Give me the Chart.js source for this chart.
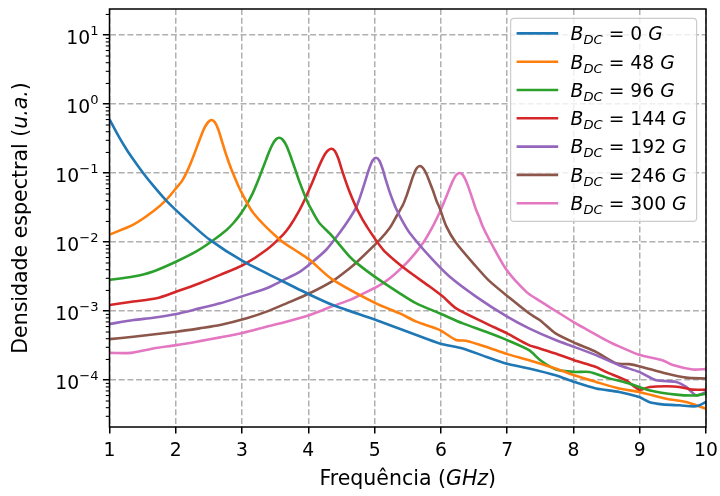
<!DOCTYPE html>
<html><head><meta charset="utf-8">
<script src="https://cdn.jsdelivr.net/npm/chart.js@4"></script>
<style>html,body{margin:0;padding:0;background:#fff}#wrap{width:720px;height:496px}</style>
</head><body><div id="wrap"><canvas id="c" width="720" height="496"></canvas></div>
<script>
// ---- data ----
const fieldsG = [0, 48, 96, 144, 192, 246, 300];

const freqB0 = [1.0,1.13,1.26,1.36,1.51,1.66,1.86,2.16,2.51,3.02,3.57,4.0,4.37,5.02,5.63,5.98,6.33,6.68,6.98,7.33,7.73,8.01,8.34,8.69,8.99,9.14,9.34,9.6,9.85,10.0];
const valB0  = [0.605,0.355,0.219,0.158,0.1,0.066,0.0398,0.0212,0.0109,0.00526,0.00285,0.00178,0.00123,7.46e-4,4.52e-4,3.42e-4,2.89e-4,2.19e-4,1.75e-4,1.48e-4,1.18e-4,9.46e-5,7.59e-5,6.76e-5,5.71e-5,4.84e-5,4.47e-5,4.33e-5,4.2e-5,4.84e-5];

const freqB48 = [1.0,1.36,1.66,1.86,2.01,2.09,2.16,2.24,2.29,2.34,2.39,2.44,2.49,2.54,2.59,2.64,2.69,2.74,2.79,2.84,2.97,3.17,3.57,3.87,4.02,4.35,5.02,5.38,5.63,5.98,6.23,6.38,6.68,7.0,7.33,7.73,8.01,8.34,8.69,8.99,9.4,9.7,9.85,10.0];
const valB48  = [0.0129,0.018,0.0281,0.0415,0.0614,0.0762,0.101,0.152,0.202,0.273,0.365,0.469,0.553,0.592,0.547,0.433,0.305,0.213,0.153,0.1135,0.0581,0.0265,0.0109,0.00695,0.00556,0.00295,0.0013,9.3e-4,7.08e-4,5.37e-4,3.82e-4,3.73e-4,3.05e-4,2.39e-4,1.95e-4,1.48e-4,1.18e-4,9.46e-5,7.59e-5,6.76e-5,5.4e-5,4.84e-5,4.33e-5,3.87e-5];

const freqB96 = [1.0,1.36,1.66,2.01,2.31,2.56,2.77,2.87,2.96,3.06,3.16,3.26,3.31,3.36,3.41,3.46,3.51,3.56,3.61,3.66,3.71,3.76,3.81,3.86,3.96,4.02,4.16,4.35,4.62,4.73,5.0,5.38,5.63,5.98,6.33,6.68,7.0,7.33,7.5,7.74,8.01,8.24,8.49,8.84,9.14,9.55,9.85,10.0];
const valB96  = [2.85e-3,3.18e-3,3.77e-3,5.26e-3,7.36e-3,0.0106,0.0152,0.019,0.0243,0.0339,0.0511,0.0867,0.116,0.155,0.206,0.262,0.308,0.327,0.308,0.262,0.202,0.148,0.108,0.0782,0.0442,0.0332,0.0193,0.0126,6.22e-3,4.98e-3,3.18e-3,1.82e-3,1.30e-3,9.33e-4,6.67e-4,5.05e-4,3.82e-4,2.73e-4,1.95e-4,1.43e-4,1.32e-4,1.32e-4,1.10e-4,8.95e-5,7.16e-5,6.19e-5,6.03e-5,6.4e-5];

const freqB144 = [1.0,1.36,1.71,2.01,2.36,2.67,3.02,3.37,3.62,3.72,3.85,3.95,4.05,4.10,4.15,4.20,4.25,4.30,4.35,4.40,4.45,4.50,4.55,4.60,4.65,4.75,4.88,5.13,5.48,5.83,6.03,6.23,6.68,7.0,7.33,7.49,7.73,8.01,8.34,8.49,8.79,8.99,9.15,9.4,9.6,9.8,10.0];
const valB144  = [1.23e-3,1.38e-3,1.54e-3,1.93e-3,2.55e-3,3.37e-3,4.71e-3,7.78e-3,0.0129,0.017,0.0273,0.0424,0.0697,0.091,0.119,0.152,0.188,0.215,0.226,0.210,0.166,0.117,0.0836,0.0611,0.0462,0.0282,0.017,7.78e-3,3.98e-3,2.28e-3,1.63e-3,1.10e-3,6.67e-4,4.77e-4,3.23e-4,2.89e-4,2.44e-4,1.95e-4,1.56e-4,1.32e-4,1.0e-4,7.3e-5,8.0e-5,8.17e-5,8.0e-5,7.3e-5,7.3e-5];

const freqB192 = [1.0,1.36,1.66,2.01,2.36,2.67,3.02,3.37,3.62,3.87,4.02,4.27,4.47,4.62,4.72,4.77,4.82,4.87,4.92,4.97,5.02,5.07,5.12,5.17,5.22,5.27,5.32,5.42,5.53,5.83,6.13,6.53,7.0,7.33,7.73,8.01,8.34,8.69,8.99,9.25,9.55,9.7,9.85,10.0];
const valB192  = [6.53e-4,7.46e-4,8.05e-4,9.12e-4,1.10e-3,1.30e-3,1.67e-3,2.15e-3,2.82e-3,3.72e-3,4.79e-3,7.78e-3,0.0136,0.0219,0.0317,0.0422,0.0588,0.0838,0.118,0.153,0.168,0.153,0.116,0.0793,0.0561,0.0413,0.0314,0.0202,0.0136,6.22e-3,3.18e-3,1.63e-3,8.34e-4,5.65e-4,3.82e-4,3.05e-4,2.31e-4,1.65e-4,1.32e-4,1.0e-4,9.46e-5,8.0e-5,6.05e-5,6.76e-5];

const freqB246 = [1.0,1.36,2.01,2.36,2.67,3.07,3.37,3.67,4.02,4.37,4.62,4.73,5.08,5.23,5.33,5.43,5.48,5.53,5.58,5.63,5.68,5.73,5.78,5.83,5.88,5.93,5.98,6.08,6.23,6.53,6.73,7.04,7.33,7.49,7.73,8.04,8.34,8.64,8.84,8.99,9.4,9.7,10.0];
const valB246  = [3.94e-4,4.27e-4,5.05e-4,5.65e-4,6.31e-4,7.89e-4,9.86e-4,1.30e-3,1.82e-3,2.75e-3,4.17e-3,5.13e-3,0.0109,0.0162,0.0238,0.0352,0.0465,0.0647,0.0902,0.116,0.127,0.119,0.0982,0.0748,0.0562,0.0407,0.0316,0.0171,9.73e-3,4.45e-3,2.75e-3,1.55e-3,9.33e-4,7.46e-4,4.77e-4,3.41e-4,2.58e-4,1.77e-4,1.71e-4,1.6e-4,1.25e-4,1.09e-4,1.06e-4];

const freqB300 = [1.0,1.32,1.66,2.01,2.36,2.67,3.02,3.37,3.67,4.02,4.37,4.62,4.73,5.13,5.48,5.73,5.88,5.98,6.03,6.08,6.13,6.18,6.23,6.28,6.33,6.38,6.43,6.48,6.53,6.58,6.63,6.73,6.99,7.29,7.49,7.59,7.99,8.19,8.49,8.59,8.99,9.34,9.5,9.8,10.0];
const valB300  = [2.49e-4,2.49e-4,2.89e-4,3.23e-4,3.69e-4,4.18e-4,4.88e-4,5.97e-4,7.05e-4,8.81e-4,1.19e-3,1.45e-3,1.62e-3,2.55e-3,4.98e-3,9.73e-3,0.0171,0.0269,0.0346,0.0454,0.0598,0.0774,0.0942,0.101,0.0948,0.0774,0.0575,0.0415,0.0297,0.0229,0.017,0.0109,3.98e-3,1.91e-3,1.41e-3,1.23e-3,7.08e-4,5.5e-4,3.8e-4,3.41e-4,2.34e-4,1.95e-4,1.66e-4,1.43e-4,1.45e-4];

const xTicks = [1,2,3,4,5,6,7,8,9,10];
const yMajorTicks = [1e-4,1e-3,1e-2,1e-1,1,10];
const yTickBase = '10';
const yTickExps = ['\u22124','\u22123','\u22122','\u22121','0','1'];

// ---- styles ----
const colors = ['#1f77b4','#ff7f0e','#2ca02c','#d62728','#9467bd','#8c564b','#e377c2'];
const FONT = '"DejaVu Sans", sans-serif';
const FS = 18.75;
const FS_TITLE = 20.5;
const GRID = '#b0b0b0';

const seriesF = [freqB0,freqB48,freqB96,freqB144,freqB192,freqB246,freqB300];
const seriesV = [valB0,valB48,valB96,valB144,valB192,valB246,valB300];

const datasets = seriesF.map((fs, i) => ({
  label: 'B_DC = ' + fieldsG[i] + ' G',
  data: fs.map((x, j) => ({x: x, y: seriesV[i][j]})),
  borderColor: colors[i],
  backgroundColor: colors[i],
  borderWidth: 2.6,
  pointRadius: 0,
  fill: false,
  tension: 0.25
}));

function drawMath(ctx, parts, x, y, base) {
  base = base || FS;
  for (const p of parts) {
    const size = base * (p[3] || 1);
    ctx.font = (p[1] ? 'italic ' : '') + size + 'px ' + FONT;
    ctx.fillText(p[0], x, y + (p[2] || 0));
    x += ctx.measureText(p[0]).width;
  }
  return x;
}
function mathWidth(ctx, parts, base) {
  base = base || FS;
  let w = 0;
  for (const p of parts) {
    const size = base * (p[3] || 1);
    ctx.font = (p[1] ? 'italic ' : '') + size + 'px ' + FONT;
    w += ctx.measureText(p[0]).width;
  }
  return w;
}

const framePlugin = {
  id: 'mplFrame',
  afterDatasetsDraw(chart) {
    const ctx = chart.ctx, a = chart.chartArea;
    ctx.save();
    ctx.strokeStyle = '#000';
    ctx.lineWidth = 1.5;
    ctx.strokeRect(a.left, a.top, a.right - a.left, a.bottom - a.top);
    // legend
    const lw = 186, lh = 203;
    const lx = a.right - 9.4 - lw, ly = a.top + 9.4;
    const r = 3.5;
    ctx.beginPath();
    ctx.moveTo(lx + r, ly);
    ctx.arcTo(lx + lw, ly, lx + lw, ly + lh, r);
    ctx.arcTo(lx + lw, ly + lh, lx, ly + lh, r);
    ctx.arcTo(lx, ly + lh, lx, ly, r);
    ctx.arcTo(lx, ly, lx + lw, ly, r);
    ctx.closePath();
    ctx.fillStyle = 'rgba(255,255,255,0.8)';
    ctx.fill();
    ctx.strokeStyle = '#cccccc';
    ctx.lineWidth = 1.2;
    ctx.stroke();
    chart.data.datasets.forEach((ds, i) => {
      const cy = ly + 15 + i * 28.3;
      ctx.strokeStyle = ds.borderColor;
      ctx.lineWidth = 2.6;
      ctx.beginPath();
      ctx.moveTo(lx + 6, cy);
      ctx.lineTo(lx + 47.6, cy);
      ctx.stroke();
      ctx.fillStyle = '#000';
      ctx.textBaseline = 'alphabetic';
      ctx.textAlign = 'left';
      drawMath(ctx, [['B', true], ['DC', true, 4, 0.7], [' = ' + fieldsG[i] + ' ', false], ['G', true]], lx + 60, cy + 6.8);
    });
    ctx.restore();
  },
  afterDraw(chart) {
    const ctx = chart.ctx, a = chart.chartArea;
    const ys = chart.scales.y;
    ctx.save();
    ctx.strokeStyle = '#000';
    ctx.lineWidth = 1.1;
    for (let e = -5; e <= 1; e++) {
      for (let m = 2; m <= 9; m++) {
        const v = m * Math.pow(10, e);
        if (v < ys.min || v > ys.max) continue;
        const py = ys.getPixelForValue(v);
        ctx.beginPath();
        ctx.moveTo(a.left - 3.75, py);
        ctx.lineTo(a.left, py);
        ctx.stroke();
      }
    }
    ctx.fillStyle = '#000';
    ctx.textBaseline = 'alphabetic';
    ctx.textAlign = 'left';
    yMajorTicks.forEach((v, i) => {
      const py = ys.getPixelForValue(v);
      const parts = [[yTickBase, false], [yTickExps[i], false, -8.5, 0.7]];
      const w = mathWidth(ctx, parts);
      drawMath(ctx, parts, a.left - 11 - w, py + 8.5);
    });
    ctx.textBaseline = 'middle';
    const xt = [['Frequência (', false], ['GHz', true], [')', false]];
    const wx = mathWidth(ctx, xt, FS_TITLE);
    drawMath(ctx, xt, (a.left + a.right) / 2 - wx / 2, 480, FS_TITLE);
    const yt = [['Densidade espectral (', false], ['u.a.', true], [')', false]];
    const wy = mathWidth(ctx, yt, FS_TITLE);
    ctx.translate(22, (a.top + a.bottom) / 2);
    ctx.rotate(-Math.PI / 2);
    drawMath(ctx, yt, -wy / 2, 0, FS_TITLE);
    ctx.restore();
  }
};

Chart.defaults.font.family = FONT;
Chart.defaults.font.size = FS;
Chart.defaults.color = '#000';

new Chart(document.getElementById('c'), {
  type: 'line',
  data: {datasets: datasets},
  options: {
    responsive: false,
    animation: false,
    devicePixelRatio: 1,
    layout: {padding: {left: 0, right: 14, top: 9, bottom: 0}},
    plugins: {legend: {display: false}, tooltip: {enabled: false}},
    scales: {
      x: {
        type: 'linear', min: 1, max: 10,
        afterBuildTicks: s => { s.ticks = xTicks.map(v => ({value: v})); },
        afterFit: s => { s.height = 69; s.paddingLeft = 0; s.paddingRight = 0; },
        ticks: {padding: 6.6, maxRotation: 0, autoSkip: false, color: '#000', font: {size: FS}},
        grid: {color: GRID, lineWidth: 1.5, tickColor: '#000', tickLength: 6.6, tickWidth: 1.5},
        border: {display: false, dash: [6, 2.7]}
      },
      y: {
        type: 'logarithmic', min: 2.1e-5, max: 24,
        afterBuildTicks: s => { s.ticks = yMajorTicks.map(v => ({value: v, major: true})); },
        afterFit: s => { s.width = 109.5; s.paddingTop = 0; s.paddingBottom = 0; },
        ticks: {display: false},
        grid: {color: GRID, lineWidth: 1.5, tickColor: '#000', tickLength: 6.6, tickWidth: 1.5},
        border: {display: false, dash: [6, 2.7]}
      }
    }
  },
  plugins: [framePlugin]
});
</script>
</body></html>
